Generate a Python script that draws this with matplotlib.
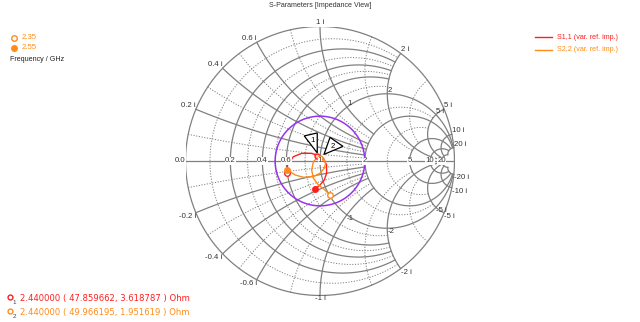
import numpy as np
import matplotlib
matplotlib.use("Agg")
import matplotlib.pyplot as plt
from matplotlib.patches import Polygon
from matplotlib.lines import Line2D

plt.rcParams["font.family"] = ["Liberation Sans", "DejaVu Sans"]

# ---- data: reflection coefficient (re, im) ----
s11_re = [-0.242, -0.242, -0.198, -0.136, -0.062, -0.020, 0.025, 0.049, 0.049, 0.032, 0.000, -0.037]
s11_im = [-0.091, -0.030, 0.032, 0.057, 0.057, 0.040, 0.020, -0.030, -0.091, -0.141, -0.178, -0.207]
s22_re = [0.074, 0.037, -0.012, -0.049, -0.062, -0.049, -0.020, 0.000, 0.030, 0.042, 0.032, 0.000,
          -0.049, -0.123, -0.185, -0.242]
s22_im = [-0.254, -0.215, -0.178, -0.128, -0.067, -0.005, 0.025, 0.020, 0.012, -0.017, -0.054, -0.091,
          -0.116, -0.121, -0.104, -0.067]
freq_start, freq_stop = 2.35, 2.55
marker_f = 2.44
marker_z = [47.859662 + 3.618787j, 49.966195 + 1.951619j]
z0 = 50.0
vswr = 2.0

r_major = [0.2, 0.4, 0.6, 1, 2, 5, 10, 20]
x_major = [0.2, 0.4, 0.6, 1, 2, 5, 10, 20]
r_minor = [0.1, 0.3, 0.5, 0.8, 1.5, 3]
x_minor = [0.1, 0.3, 0.5, 0.8, 1.5, 3]
axis_labels = ["0.0", "0.2", "0.4", "0.6", "1", "2", "5", "10", "20"]

RED = "#ff1f1f"
ORG = "#ff8c1a"
GRID = "#808080"
TXT = "#333333"
FS = 5.1
FSN = 5.6


def gam(z):
    return (z - 1) / (z + 1)


fig = plt.figure(figsize=(6.4, 3.22), dpi=100)
CX, CY, R = 320, 161, 134.5
ax = fig.add_axes([(CX - R) / 640, (322 - CY - R) / 322, 2 * R / 640, 2 * R / 322])
ax.set_xlim(-1, 1)
ax.set_ylim(-1, 1)
ax.axis("off")

t = np.linspace(0, 2 * np.pi, 400)
ax.plot(np.cos(t), np.sin(t), color=GRID, lw=0.9)
ax.plot([-1, 1], [0, 0], color=GRID, lw=0.9)

dot = (0, (1.2, 1.6))
for r in r_major:
    xl = 2 if r < 1 else 20
    xs = np.linspace(-xl, xl, 800)
    g = gam(r + 1j * xs)
    ax.plot(g.real, g.imag, color=GRID, lw=0.9)
for r in r_minor:
    xl = 2 if r < 1 else 5
    xs = np.linspace(-xl, xl, 400)
    g = gam(r + 1j * xs)
    ax.plot(g.real, g.imag, color=GRID, lw=0.7, ls=dot)
for x in x_major:
    rl = 2 if x <= 1 else 20
    rs = np.linspace(0, rl, 800)
    for s in (1, -1):
        g = gam(rs + 1j * s * x)
        ax.plot(g.real, g.imag, color=GRID, lw=0.9)
for x in x_minor:
    rl = 2 if x < 1 else 5
    rs = np.linspace(0, rl, 400)
    for s in (1, -1):
        g = gam(rs + 1j * s * x)
        ax.plot(g.real, g.imag, color=GRID, lw=0.7, ls=dot)

# real axis labels
for lab in axis_labels:
    g = gam(float(lab))
    ha = "right" if lab == "0.0" else "center"
    ax.text(g.real, 0, lab, fontsize=FSN, ha=ha, va="center", color=TXT,
            bbox=dict(fc="white", ec="none", pad=0.2))
# reactance labels on the rim
for x in x_major:
    for s in (1, -1):
        g = gam(1j * s * x)
        ha = "center" if x == 1 else ("right" if g.real < 0 else "left")
        va = "bottom" if s > 0 else "top"
        ax.text(g.real, g.imag, f"{s * x:g} i", fontsize=FSN, ha=ha, va=va,
                color=TXT, clip_on=False)
# reactance labels on the r = 1 circle
for x, lab in [(1, "1"), (2, "2"), (5, "5 i")]:
    for s in (1, -1):
        g = gam(1 + 1j * s * x)
        ax.text(g.real, g.imag, ("-" if s < 0 else "") + lab, fontsize=FSN,
                ha="left", va="bottom" if s > 0 else "top", color=TXT)

# VSWR circle
rho = (vswr - 1) / (vswr + 1)
ax.plot(rho * np.cos(t), rho * np.sin(t), color="#9933ee", lw=1.1)

ax.plot(s11_re, s11_im, color=RED, lw=1.0)
ax.plot(s22_re, s22_im, color=ORG, lw=1.0)
ax.plot(s11_re[0], s11_im[0], "o", mfc="white", mec=RED, ms=4, mew=1)
ax.plot(s11_re[-1], s11_im[-1], "o", color=RED, ms=4)
ax.plot(s22_re[0], s22_im[0], "o", mfc="white", mec=ORG, ms=4, mew=1)
ax.plot(s22_re[-1], s22_im[-1], "o", color=ORG, ms=4)

# markers at 2.44 GHz with flag callouts (offsets in pixels, y up)
flags = [[(0, 3), (-13, 20), (0, 23)], [(4, 4), (10, 21), (23, 12)]]
for i, (z, col) in enumerate(zip(marker_z, [RED, ORG])):
    g = gam(z / z0)
    ax.plot(g.real, g.imag, "o", mfc="#ffd0d0", mec=col, ms=3.5, mew=1)
    px, py = ax.transData.transform((g.real, g.imag))
    pts = np.array(flags[i], dtype=float) + [px, py]
    fig.patches.append(Polygon(pts, closed=True, fc="white", ec="black", lw=0.9,
                               transform=None, zorder=5))
    cx_, cy_ = pts.mean(axis=0)
    fig.text(cx_ / 640, cy_ / 322, str(i + 1), fontsize=FSN, ha="center", va="center",
             zorder=6)

fig.text(0.5, 0.995, "S-Parameters [Impedance View]", fontsize=FS, ha="center", va="top",
         color=TXT)
fig.lines.append(Line2D([0.022], [0.882], marker="o", mfc="white", mec=ORG, ms=4,
                        transform=fig.transFigure))
fig.lines.append(Line2D([0.022], [0.851], marker="o", color=ORG, ms=4,
                        transform=fig.transFigure))
fig.text(0.034, 0.882, f"{freq_start:.2f}", color=ORG, fontsize=FSN, va="center")
fig.text(0.034, 0.851, f"{freq_stop:.2f}", color=ORG, fontsize=FSN, va="center")
fig.text(0.015, 0.815, "Frequency / GHz", fontsize=FS, va="center", color="#222222")
fig.lines.append(Line2D([0.836, 0.862], [0.885, 0.885], color=RED, lw=1.0,
                        transform=fig.transFigure))
fig.lines.append(Line2D([0.836, 0.862], [0.845, 0.845], color=ORG, lw=1.0,
                        transform=fig.transFigure))
fig.text(0.870, 0.885, "S1,1 (var. ref. imp.)", color=RED, fontsize=FS, va="center")
fig.text(0.870, 0.845, "S2,2 (var. ref. imp.)", color=ORG, fontsize=FS, va="center")
for i, (z, col, y) in enumerate(zip(marker_z, [RED, ORG], [0.072, 0.030])):
    fig.lines.append(Line2D([0.016], [y + 0.005], marker="o", mfc="white", mec=col,
                            ms=3.5, transform=fig.transFigure))
    fig.text(0.020, y - 0.012, str(i + 1), fontsize=4.5, ha="left", va="center", color="#444444")
    fig.text(0.031, y, f"{marker_f:.6f} ( {z.real:.6f}, {z.imag:.6f} ) Ohm", color=col,
             fontsize=6.1, va="center", family="DejaVu Sans")

fig.savefig("out.png", dpi=100)
